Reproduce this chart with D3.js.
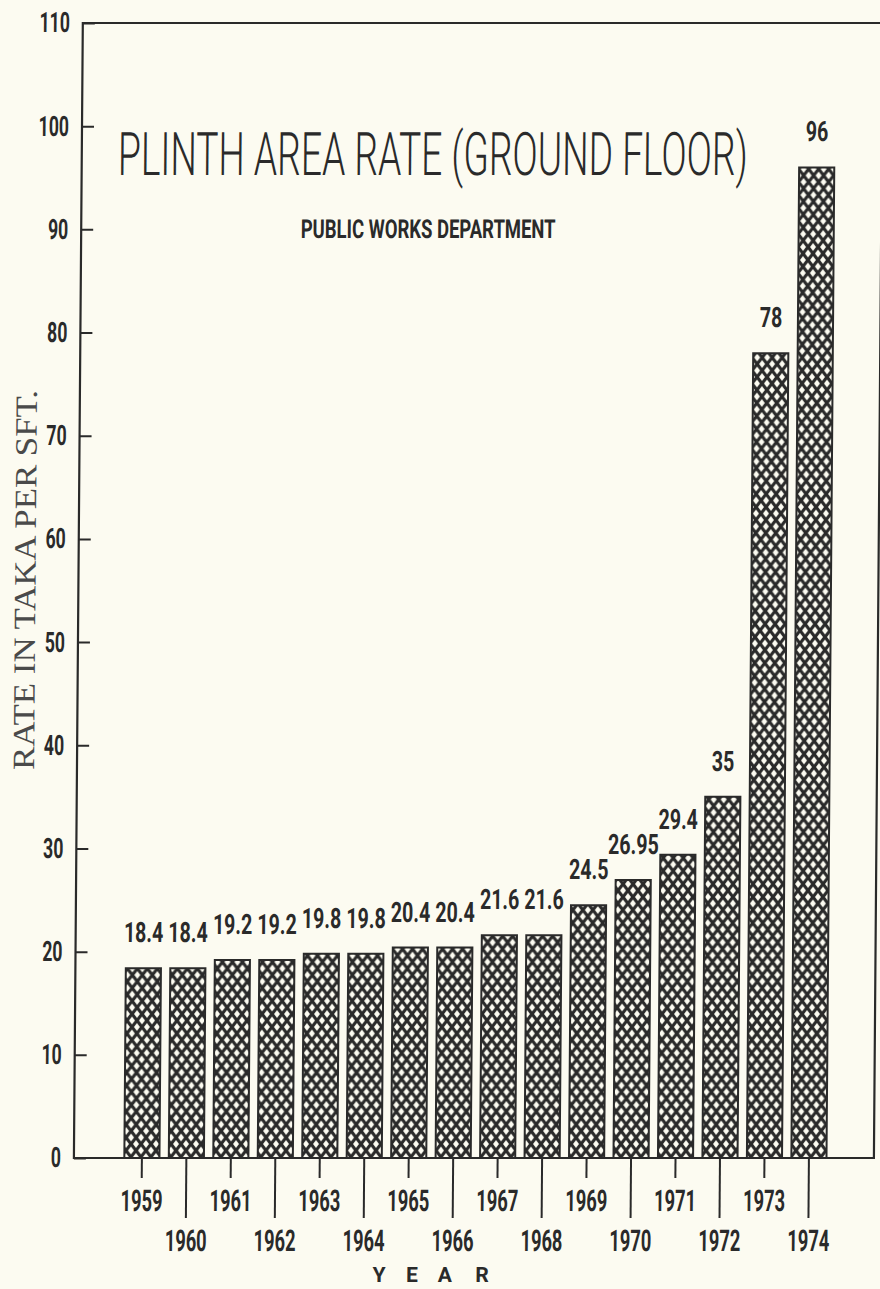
<!DOCTYPE html>
<html><head><meta charset="utf-8">
<script src="https://cdn.jsdelivr.net/npm/d3@7"></script>
<style>html,body{margin:0;padding:0;background:#fcfbf1}svg{display:block}</style>
</head><body>
<svg id="c" width="880" height="1289"></svg>
<script>
// ---- data ----
const years = ["1959","1960","1961","1962","1963","1964","1965","1966","1967","1968","1969","1970","1971","1972","1973","1974"];
const rates = [18.4,18.4,19.2,19.2,19.8,19.8,20.4,20.4,21.6,21.6,24.5,26.95,29.4,35,78,96];
const rateLabels = ["18.4","18.4","19.2","19.2","19.8","19.8","20.4","20.4","21.6","21.6","24.5","26.95","29.4","35","78","96"];
const yTicks = [0,10,20,30,40,50,60,70,80,90,100,110];
const titleText = "PLINTH AREA RATE (GROUND FLOOR)";
const subtitleText = "PUBLIC WORKS DEPARTMENT";
const yLabelText = "RATE IN TAKA PER SFT.";
const xLabelLetters = ["Y","E","A","R"];

// ---- style / layout ----
const BG = "#fcfbf1", INK = "#2a2a2a";
const L = 83, R = 883, T = 23, B = 1158;
const DIGIT_FONT = "Roboto, 'DejaVu Sans', sans-serif";

const svg = d3.select("#c");
svg.append("rect").attr("width",880).attr("height",1289).attr("fill",BG);

const defs = svg.append("defs");
const pat = defs.append("pattern").attr("id","hatch")
  .attr("patternUnits","userSpaceOnUse").attr("width",10).attr("height",13);
pat.append("rect").attr("width",10).attr("height",13).attr("fill",BG);
pat.append("path").attr("d","M0,0L10,13M10,0L0,13")
  .attr("stroke",INK).attr("stroke-width",3.2).attr("fill","none");

const g = svg.append("g").attr("transform","skewX(-0.45)");

const y = d3.scaleLinear().domain([0,110]).range([B,T]);
const x = d3.scaleBand().domain(years).range([128.75,840.25]).paddingInner(0.21).paddingOuter(0.105);

// helper: text squeezed horizontally to a target width (scale transform)
function fitText(sel, cx, cy, width, rot) {
  const nat = sel.node().getComputedTextLength();
  const s = width / nat;
  sel.attr("transform", `translate(${cx},${cy})${rot ? " rotate(" + rot + ")" : ""} scale(${s},1)`);
}

// bars
g.append("g").selectAll("rect").data(rates).join("rect")
  .attr("x",(d,i)=>x(years[i]))
  .attr("y",d=>y(d))
  .attr("width",x.bandwidth())
  .attr("height",d=>y(0)-y(d))
  .attr("fill","url(#hatch)")
  .attr("stroke",INK).attr("stroke-width",2);

// value labels
const vs = 0.7;
g.append("g").selectAll("text").data(rates).join("text")
  .attr("transform",(d,i)=>`translate(${x(years[i])+x.bandwidth()/2},${y(d)-26}) scale(${vs},1)`)
  .attr("text-anchor","middle")
  .attr("font-family",DIGIT_FONT).attr("font-weight",700).attr("font-size",28)
  .attr("fill",INK)
  .text((d,i)=>rateLabels[i]);

// frame
g.append("rect").attr("x",L).attr("y",T).attr("width",R-L).attr("height",B-T)
  .attr("fill","none").attr("stroke",INK).attr("stroke-width",2.2);

// y axis
const ys = 0.63;
const ya = g.append("g").attr("transform",`translate(${L},0)`)
  .call(d3.axisLeft(y).tickValues(yTicks).tickSize(-12).tickPadding(13).tickFormat(d3.format("d")));
ya.select(".domain").remove();
ya.selectAll(".tick line").attr("stroke",INK).attr("stroke-width",2);
ya.selectAll(".tick text")
  .attr("font-family",DIGIT_FONT).attr("font-weight",700).attr("font-size",28)
  .attr("fill",INK).attr("x",-13/ys).attr("transform",`scale(${ys},1)`);

// x axis
const xs = 0.61;
const xa = g.append("g").attr("transform",`translate(0,${B})`)
  .call(d3.axisBottom(x).tickSize(0).tickPadding(0));
xa.select(".domain").remove();
xa.selectAll(".tick line").attr("y2",(d,i)=> i%2===0 ? 20 : 60)
  .attr("stroke",INK).attr("stroke-width",2);
xa.selectAll(".tick text")
  .attr("y",(d,i)=> i%2===0 ? 53 : 93).attr("dy",0)
  .attr("font-family",DIGIT_FONT).attr("font-weight",700).attr("font-size",30)
  .attr("fill",INK).attr("transform",`scale(${xs},1)`);

// title
const title = g.append("text").attr("text-anchor","middle")
  .attr("font-family","Roboto, 'DejaVu Sans', sans-serif").attr("font-weight",300)
  .attr("font-size",60).attr("fill",INK).text(titleText);
fitText(title, 434, 175, 630);

const sub = g.append("text").attr("text-anchor","middle")
  .attr("font-family",DIGIT_FONT).attr("font-weight",700)
  .attr("font-size",26).attr("fill",INK).text(subtitleText);
fitText(sub, 430, 238, 255);

// y label
const yl = g.append("text").attr("text-anchor","middle")
  .attr("font-family","'Liberation Serif','Times New Roman',serif")
  .attr("font-size",31).attr("fill","#4a4a4a").text(yLabelText);
fitText(yl, 40, 580, 380, -90);

// x label
const xl = g.append("text").attr("y",1282)
  .attr("font-family",DIGIT_FONT).attr("font-weight",700).attr("font-size",21)
  .attr("fill",INK).attr("text-anchor","middle");
xl.selectAll("tspan").data(xLabelLetters).join("tspan")
  .attr("x",(d,i)=>[389,422,455,492][i]).text(d=>d);
</script>
</body></html>
